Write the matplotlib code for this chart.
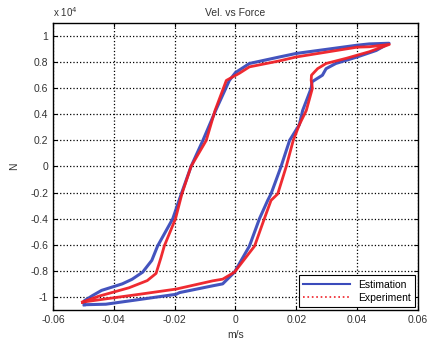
import matplotlib.pyplot as plt
from matplotlib.lines import Line2D

plt.rcParams['font.family'] = ['Liberation Sans', 'DejaVu Sans']
plt.rcParams['axes.unicode_minus'] = False

# estimation loop (m/s, N x 1e4)
est_v = [-0.0497, -0.0426, -0.0316, -0.0195, -0.0184, -0.0075, -0.0042, -0.0003,
         0.0046, 0.0079, 0.0106, 0.0117, 0.0150, 0.0178, 0.0210, 0.0221, 0.0249,
         0.0252, 0.0286, 0.0298, 0.0330, 0.0400, 0.0463, 0.0505,
         0.0440, 0.0400, 0.0200, 0.0145, 0.0046, 0.0000, -0.0020, -0.0065,
         -0.0107, -0.0146, -0.0178, -0.0206, -0.0256, -0.0275, -0.0305, -0.0340,
         -0.0372, -0.0440, -0.0470, -0.0497, -0.0497]
est_f = [-1.06, -1.056, -1.02, -0.98, -0.967, -0.915, -0.90, -0.81,
         -0.61, -0.40, -0.26, -0.21, 0.0, 0.2, 0.32, 0.43, 0.60,
         0.65, 0.70, 0.75, 0.79, 0.84, 0.89, 0.945,
         0.94, 0.93, 0.867, 0.84, 0.79, 0.72, 0.66, 0.43,
         0.2, 0.0, -0.21, -0.40, -0.61, -0.72, -0.81, -0.865,
         -0.90, -0.95, -0.99, -1.03, -1.06]

# experiment loop
exp_v = [-0.0503, -0.0426, -0.0316, -0.0195, -0.0075, -0.0042, -0.0003, 0.0063,
         0.0095, 0.0117, 0.0139, 0.0167, 0.0190, 0.0210, 0.0233, 0.0253, 0.0249,
         0.0250, 0.0270, 0.0298, 0.0365, 0.0440, 0.0506,
         0.0440, 0.0400, 0.0200, 0.0145, 0.0046, 0.0013, -0.0030, -0.0067,
         -0.0096, -0.0146, -0.0176, -0.0197, -0.0234, -0.0245, -0.0261, -0.0290,
         -0.0350, -0.0450, -0.0503]
exp_f = [-1.04, -1.015, -0.98, -0.94, -0.877, -0.864, -0.81, -0.61,
         -0.40, -0.26, -0.21, 0.0, 0.2, 0.32, 0.43, 0.60, 0.66,
         0.70, 0.75, 0.79, 0.83, 0.88, 0.936,
         0.918, 0.915, 0.84, 0.81, 0.764, 0.715, 0.66, 0.43,
         0.2, 0.0, -0.21, -0.40, -0.61, -0.70, -0.82, -0.875,
         -0.93, -0.995, -1.04]

xticks = [-0.06, -0.04, -0.02, 0, 0.02, 0.04, 0.06]
xlabels = ['-0.06', '-0.04', '-0.02', '0', '0.02', '0.04', '0.06']
yticks = [-1, -0.8, -0.6, -0.4, -0.2, 0, 0.2, 0.4, 0.6, 0.8, 1]
ylabels = ['-1', '-0.8', '-0.6', '-0.4', '-0.2', '0', '0.2', '0.4', '0.6', '0.8', '1']

blue = '#3a4bbb'
red = '#ef1f26'

fig = plt.figure(figsize=(4.34, 3.44), dpi=100)
ax = fig.add_axes([0.122, 0.099, 0.841, 0.834])

ax.plot(est_v, est_f, color=blue, lw=2.2, alpha=0.95, solid_joinstyle='round')
ax.plot(exp_v, exp_f, color=red, lw=2.0, alpha=0.95, solid_joinstyle='round')

ax.set_xlim(-0.06, 0.06)
ax.set_ylim(-1.1, 1.1)
ax.set_xticks(xticks)
ax.set_xticklabels(xlabels)
ax.set_yticks(yticks)
ax.set_yticklabels(ylabels)
ax.tick_params(direction='in', top=True, right=True, labelsize=7.5, length=3,
               colors='black', labelcolor='#333333')
ax.grid(True, color='black', linestyle=':', linewidth=0.9)
for s in ax.spines.values():
    s.set_linewidth(1.0)

ax.set_title('Vel. vs Force', fontsize=7.5, color='#333333', pad=5)
ax.set_xlabel('m/s', fontsize=7.5, color='#333333', labelpad=4)
ax.set_ylabel('N', fontsize=7.5, color='#333333', labelpad=8)
ax.text(0.0, 1.015, 'x 10$^4$', transform=ax.transAxes, fontsize=7, color='#333333',
        ha='left', va='bottom')

handles = [Line2D([], [], color=blue, lw=1.5),
           Line2D([], [], color=red, lw=1.2, linestyle=':')]
leg = ax.legend(handles, ['Estimation', 'Experiment'], loc='lower right',
                fontsize=7.5, fancybox=False, edgecolor='black', framealpha=1,
                borderaxespad=0.3, handlelength=4.5, labelspacing=0.3)
leg.get_frame().set_linewidth(0.8)

fig.savefig('out.png', dpi=100)
